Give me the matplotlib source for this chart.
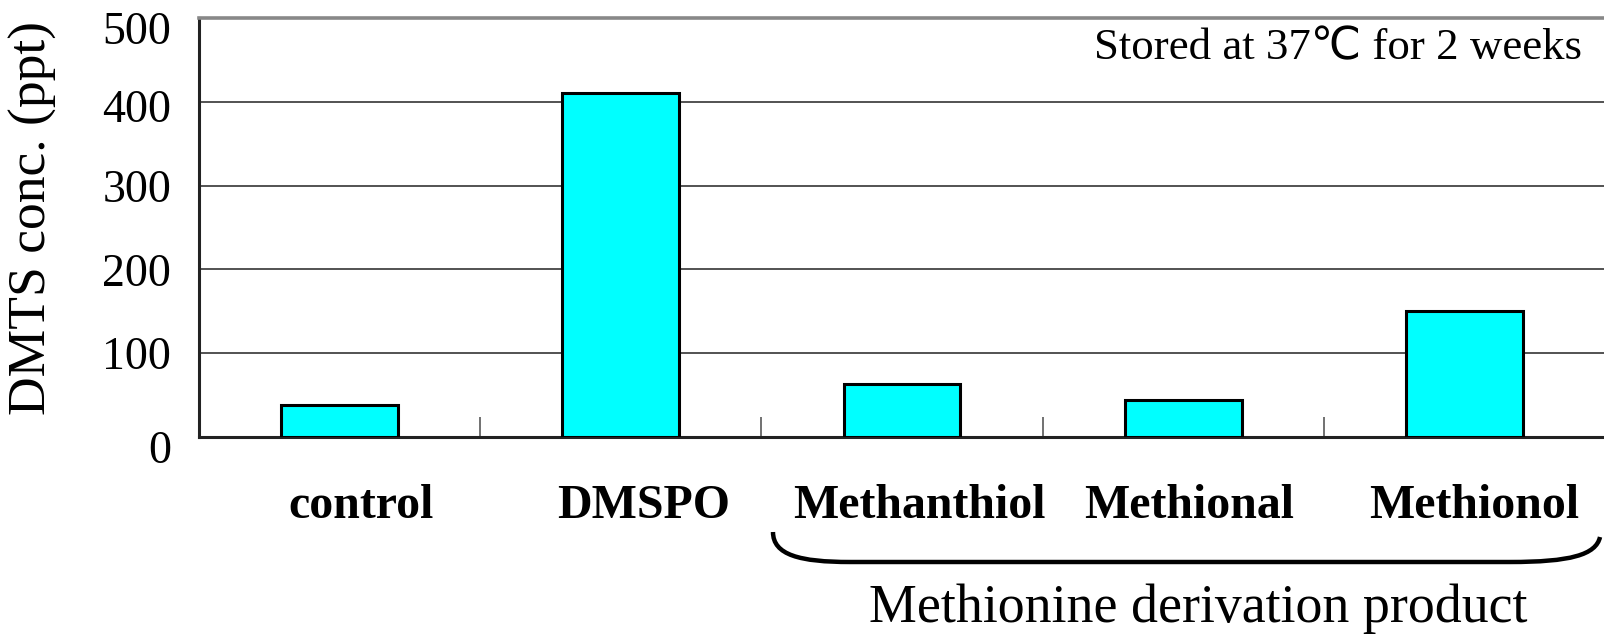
import numpy as np
import matplotlib
matplotlib.use("Agg")
import matplotlib.pyplot as plt
from matplotlib.path import Path
from matplotlib.patches import PathPatch
from matplotlib.transforms import ScaledTranslation

plt.rcParams['font.family'] = ['Liberation Serif', 'DejaVu Sans']

# data
categories = ["control", "DMSPO", "Methanthiol", "Methional", "Methionol"]
dmts_ppt = [38, 410, 63, 44, 150]
y_ticks = [0, 100, 200, 300, 400, 500]

W, H = 1604, 635
fig = plt.figure(figsize=(W/100, H/100), dpi=100)
ax = fig.add_axes([199/W, 1-437/H, 1406/W, 419/H])

x = np.arange(len(categories))
ax.bar(x, dmts_ppt, width=0.415, color="#00FFFF", edgecolor="black", linewidth=2.2, zorder=3)

ax.set_xlim(-0.5, len(categories)-0.5)
ax.set_ylim(0, 500)
ax.set_yticks(y_ticks)
ax.set_yticklabels([str(v) for v in y_ticks])
ax.yaxis.grid(True, color="#444444", linewidth=1.3, zorder=0)
ax.tick_params(axis="y", length=0, pad=20, labelsize=33)

ax.set_xticks(x)
ax.set_xticklabels(categories, fontweight="bold", fontsize=34.5)
ax.tick_params(axis="x", which="major", length=0, pad=34)
ax.set_xticks(np.arange(0.5, len(categories)-0.5, 1.0), minor=True)
ax.tick_params(axis="x", which="minor", direction="in", length=14.5, width=1.3, color="#666666")

# Excel places the category labels a bit right of the bar centres (px)
label_shift = [21, 23, 17, 6, 10]
for lbl, dx in zip(ax.get_xticklabels(), label_shift):
    lbl.set_transform(lbl.get_transform() + ScaledTranslation(dx/100, 0, fig.dpi_scale_trans))

# and nudges the end value labels down a little
for lbl in ax.get_yticklabels():
    if lbl.get_text() in ("0", "500"):
        lbl.set_transform(lbl.get_transform() + ScaledTranslation(0, -0.095, fig.dpi_scale_trans))
    elif lbl.get_text() == "400":
        lbl.set_transform(lbl.get_transform() + ScaledTranslation(0, -0.04, fig.dpi_scale_trans))

for s in ("left", "bottom"):
    ax.spines[s].set_color("#222222")
    ax.spines[s].set_linewidth(2.2)
ax.spines["top"].set_color("#888888")
ax.spines["top"].set_linewidth(2.6)
ax.spines["right"].set_visible(False)

ax.text((1582-199)/1406, (437-48)/419, "Stored at 37℃ for 2 weeks",
        transform=ax.transAxes, ha="right", va="center", fontsize=32.3)

fig.text(33/W, 1-218/H, "DMTS conc. (ppt)", rotation=90, ha="center", va="center", fontsize=38.5)

# bracket under the methionine products
pts = [(773, 532), (773, 555), (800, 562), (850, 562), (1510, 562),
       (1570, 562), (1596, 555), (1600, 537)]
codes = [Path.MOVETO, Path.CURVE4, Path.CURVE4, Path.CURVE4, Path.LINETO,
         Path.CURVE4, Path.CURVE4, Path.CURVE4]
verts = [(px/W, 1-py/H) for px, py in pts]
fig.patches.append(PathPatch(Path(verts, codes), transform=fig.transFigure,
                             facecolor="none", edgecolor="black", linewidth=3.2))

fig.text((873+1524)/2/W, 1-609/H, "Methionine derivation product",
         ha="center", va="center", fontsize=38.8)

fig.savefig("out.png", dpi=100)
